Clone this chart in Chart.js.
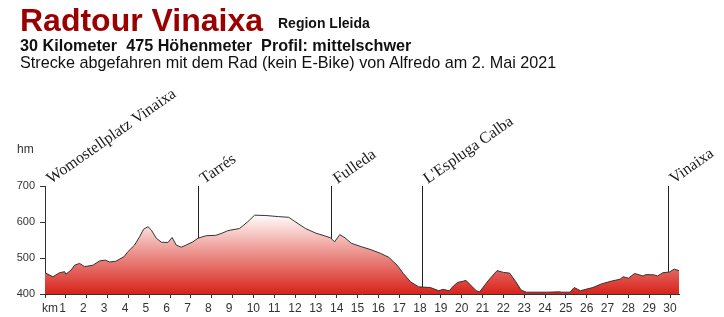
<!DOCTYPE html>
<html>
<head>
<meta charset="utf-8">
<script src="https://cdn.jsdelivr.net/npm/chart.js@4.4.1/dist/chart.umd.min.js"></script>
<style>
  body { margin: 0; background: #fff; }
  #wrap { position: relative; width: 724px; height: 317px; overflow: hidden; }
  #chart { position: absolute; left: 0; top: 0; }
  .t { position: absolute; white-space: pre; font-family: "Liberation Sans", Arial, sans-serif; line-height: 1; }
</style>
</head>
<body>
<div id="wrap">
  <canvas id="chart" width="724" height="317"></canvas>
  <div class="t" style="left:20px;top:4px;font-size:32px;font-weight:bold;color:#9a0000">Radtour Vinaixa</div>
  <div class="t" style="left:278px;top:16px;font-size:14px;font-weight:bold;color:#111">Region Lleida</div>
  <div class="t" style="left:20px;top:37px;font-size:16.2px;font-weight:bold;color:#111">30 Kilometer  475 Höhenmeter  Profil: mittelschwer</div>
  <div class="t" style="left:20px;top:54px;font-size:16.2px;color:#111">Strecke abgefahren mit dem Rad (kein E-Bike) von Alfredo am 2. Mai 2021</div>
</div>
<script>
// profile: km / height in m
const kmPoints = [0, 0.38, 0.7, 0.94, 1.0, 1.26, 1.42, 1.66, 1.9, 2.3, 2.62, 2.9, 3.1, 3.4, 3.8, 3.97,
  4.3, 4.54, 4.73, 4.94, 5.1, 5.34, 5.58, 5.9, 6.1, 6.3, 6.54, 6.78, 7.1, 7.34, 7.74, 8.2, 8.5, 8.78,
  9.34, 9.74, 10.06, 10.6, 11.2, 11.7, 12.0, 12.5, 13.0, 13.45, 13.7, 13.9, 14.15, 14.4, 14.7, 15.2,
  15.6, 16.1, 16.5, 16.9, 17.2, 17.54, 17.93, 18.5, 18.9, 19.1, 19.4, 19.6, 19.8, 20.1, 20.2, 20.7,
  20.86, 21.3, 21.7, 22.0, 22.3, 22.6, 22.85, 23.1, 24.06, 24.7, 24.8, 25.2, 25.4, 25.7, 25.95, 26.3,
  26.7, 27.2, 27.6, 27.75, 28.0, 28.3, 28.7, 28.85, 29.25, 29.4, 29.65, 29.97, 30.2, 30.43];
const heights = [459, 448, 459, 462, 455, 467, 480, 485, 476, 480, 492, 494, 489, 491, 504, 517,
  536, 559, 580, 587, 578, 555, 544, 543, 557, 536, 530, 536, 545, 555, 562, 563, 569, 576,
  582, 601, 619, 618, 615, 613, 601, 582, 569, 561, 556, 545, 565, 556, 541, 531,
  524, 513, 502, 480, 457, 434, 420, 418, 409, 413, 409, 422, 432, 436, 438, 409,
  406, 439, 465, 460, 458, 434, 411, 405, 405, 406, 405, 405, 418, 409, 413, 418,
  428, 436, 441, 448, 444, 457, 450, 454, 453, 450, 459, 461, 469, 465];

const markerNames = ['Womostellplatz Vinaixa', 'Tarrés', 'Fulleda', "L'Espluga Calba", 'Vinaixa'];
const markerKm = [0, 7.36, 13.75, 18.08, 29.9];

const yTicks = [400, 500, 600, 700];
const kmMax = 30.43;

const sans = '"Liberation Sans", Arial, sans-serif';
const serif = '"Liberation Serif", "Times New Roman", serif';

const markers = {
  id: 'markers',
  beforeDatasetsDraw(chart) {
    const { ctx } = chart;
    const x = chart.scales.x, y = chart.scales.y;
    const top = y.getPixelForValue(700), bottom = y.getPixelForValue(400);
    ctx.save();
    ctx.strokeStyle = '#222';
    ctx.lineWidth = 1;
    markerKm.forEach(km => {
      if (km === 0) return;
      const px = Math.round(x.getPixelForValue(km)) + 0.5;
      ctx.beginPath();
      ctx.moveTo(px, top);
      ctx.lineTo(px, bottom);
      ctx.stroke();
    });
    ctx.restore();
  },
  afterDraw(chart) {
    const { ctx } = chart;
    const x = chart.scales.x, y = chart.scales.y;
    const top = y.getPixelForValue(700);
    ctx.save();
    ctx.fillStyle = '#1a1a1a';
    ctx.font = '16px ' + serif;
    ctx.textAlign = 'left';
    ctx.textBaseline = 'alphabetic';
    markerNames.forEach((name, i) => {
      const px = x.getPixelForValue(markerKm[i]);
      ctx.save();
      ctx.translate(px + 6, top - 2);
      ctx.rotate(-35 * Math.PI / 180);
      ctx.fillText(name, 0, 0);
      ctx.restore();
    });
    // unit label above the y axis
    ctx.fillStyle = '#333';
    ctx.font = '12px ' + sans;
    ctx.textBaseline = 'middle';
    ctx.fillText('hm', 17, top - 36);
    ctx.restore();
  }
};

new Chart(document.getElementById('chart'), {
  type: 'line',
  data: {
    datasets: [{
      data: kmPoints.map((k, i) => ({ x: k, y: heights[i] })),
      borderColor: '#333',
      borderWidth: 1,
      pointRadius: 0,
      tension: 0,
      fill: 'start',
      backgroundColor: ctx => {
        const chart = ctx.chart;
        const area = chart.chartArea;
        if (!area) return '#d8231a';
        const y = chart.scales.y;
        const g = chart.ctx.createLinearGradient(0, y.getPixelForValue(622), 0, area.bottom);
        g.addColorStop(0, '#ffffff');
        g.addColorStop(0.45, '#ee9a95');
        g.addColorStop(1, '#d8231a');
        return g;
      }
    }]
  },
  options: {
    responsive: false,
    devicePixelRatio: 1,
    animation: false,
    layout: { padding: { top: 186, right: 45, left: 0, bottom: 0 } },
    plugins: { legend: { display: false }, tooltip: { enabled: false } },
    scales: {
      x: {
        type: 'linear',
        min: 0,
        max: kmMax,
        border: { display: true, color: '#333' },
        grid: { drawOnChartArea: false, tickLength: 4, color: '#333' },
        ticks: {
          stepSize: 1,
          includeBounds: false,
          autoSkip: false,
          maxRotation: 0,
          padding: 3,
          color: '#333',
          font: { family: sans, size: 12 },
          callback: v => v === 0 ? '   km' : (v < 10 ? v + '  ' : String(v))
        },
        afterFit: s => { s.height = 23; }
      },
      y: {
        min: 400,
        max: 700,
        afterBuildTicks: s => { s.ticks = yTicks.map(v => ({ value: v })); },
        border: { display: true, color: '#333' },
        grid: { drawOnChartArea: false, tickLength: 5, color: '#333' },
        ticks: {
          padding: 5,
          color: '#333',
          font: { family: sans, size: 11 }
        },
        afterFit: s => { s.width = 45; }
      }
    }
  },
  plugins: [markers]
});
</script>
</body>
</html>
